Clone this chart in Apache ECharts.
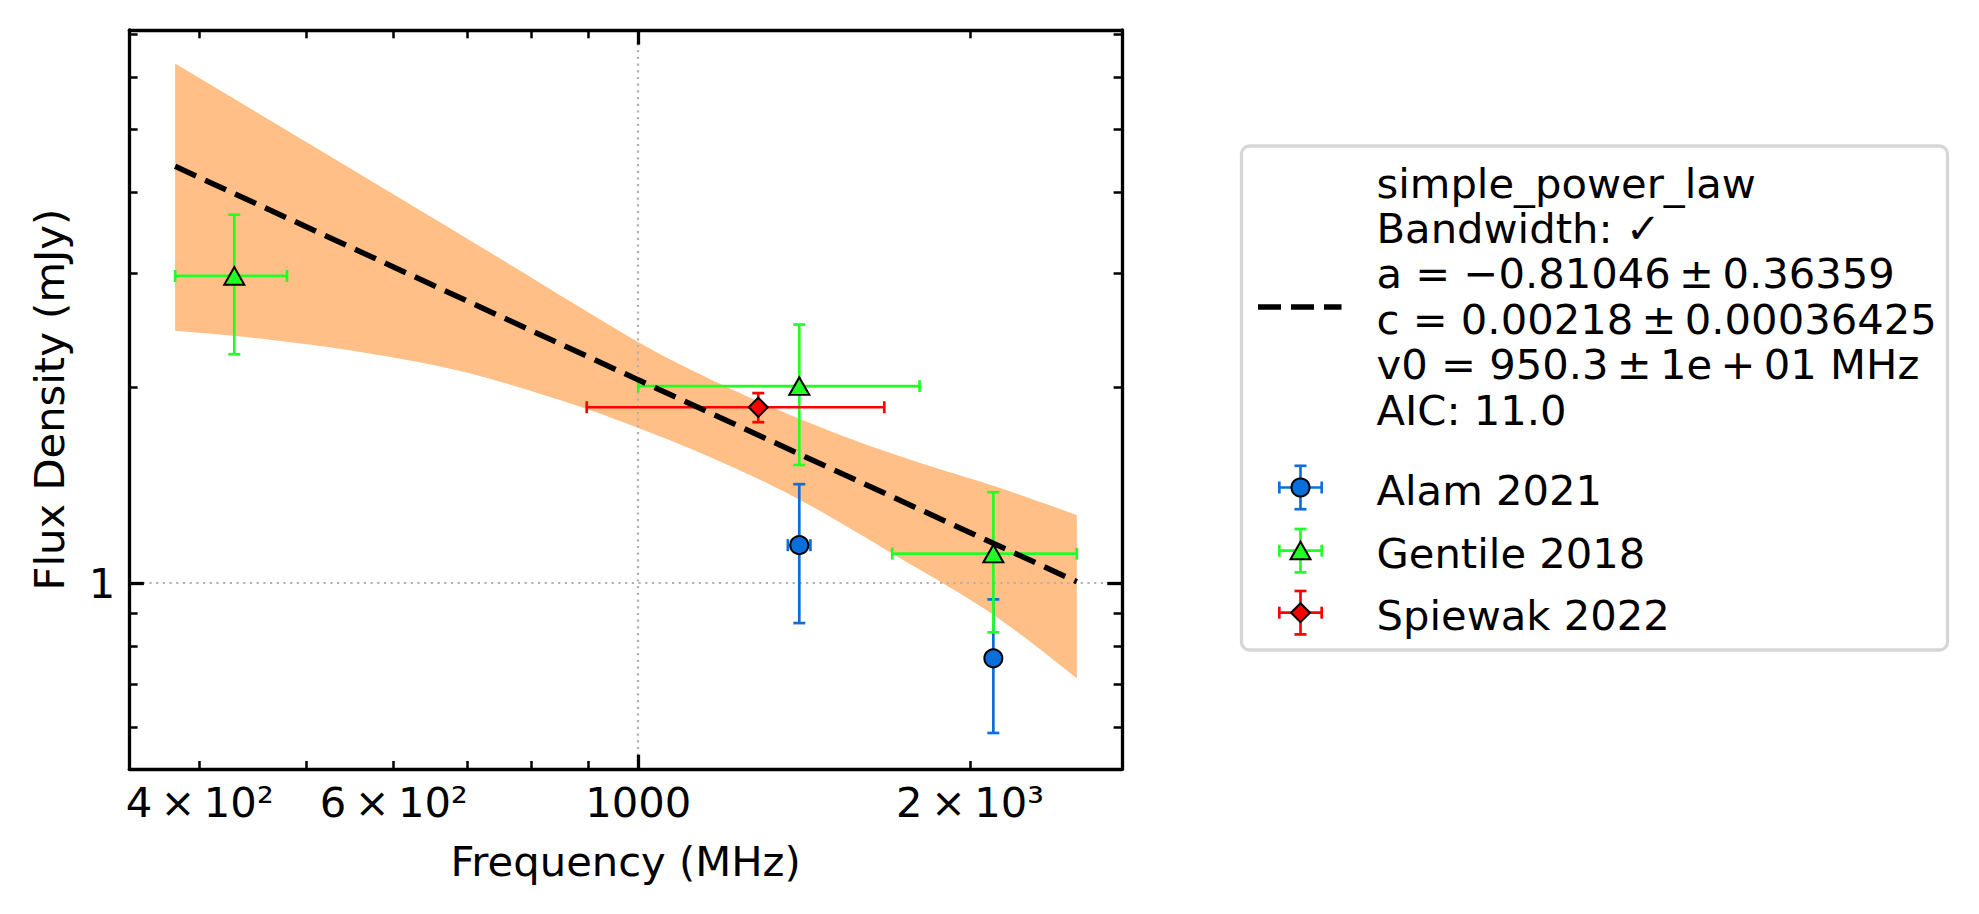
<!DOCTYPE html>
<html><head><meta charset="utf-8">
<script src="https://cdn.jsdelivr.net/npm/echarts@6/dist/echarts.min.js"></script>
<style>html,body{margin:0;padding:0;background:#fff}#c{width:1979px;height:914px}</style>
</head><body><div id="c"></div>
<script>
// ---------------- data ----------------
const alamFreq = [1400, 2100];
const alamFlux = [1.144, 0.766];
const alamFreqErr = [33, 0];
const alamFluxErr = [0.276, 0.178];

const gentileFreq = [430, 1400, 2100];
const gentileFlux = [2.97, 2.01, 1.11];
const gentileFreqErr = [50, 400, 400];
const gentileFluxErr = [0.72, 0.49, 0.27];

const spiewakFreq = [1285];
const spiewakFlux = [1.865];
const spiewakFreqErr = [387];
const spiewakFluxErr = [0.096];

const fitFreq = [380, 1000, 2500];
const fitFlux = [4.38, 2.055, 1.005];

const bandUpperFreq = [380, 675, 923, 1046, 1219, 1402, 1613, 1851, 2129, 2500];
const bandUpperFlux = [6.307, 3.516, 2.547, 2.253, 1.983, 1.789, 1.632, 1.509, 1.401, 1.273];
const bandLowerFreq = [380, 454, 559, 689, 849, 1000, 1178, 1402, 1704, 2100, 2500];
const bandLowerFlux = [2.446, 2.379, 2.269, 2.121, 1.913, 1.733, 1.547, 1.343, 1.108, 0.894, 0.714];

const xTickValues = [400, 600, 1000, 2000];
const xTickLabels = ['4\u2009×\u200910²', '6\u2009×\u200910²', '1000', '2\u2009×\u200910³'];
const xMajorTicks = [1000];
const xMinorTicks = [400, 500, 600, 700, 800, 900, 2000];
const yTickValues = [1];
const yTickLabels = ['1'];
const yMajorTicks = [1];
const yMinorTicks = [0.6, 0.7, 0.8, 0.9, 2, 3, 4, 5, 6, 7];
const xRange = [345.3, 2747];
const yRange = [0.517, 7.10];

const legendLines = ['simple_power_law', 'Bandwidth: ✓', 'a = −0.81046\u2009±\u20090.36359',
  'c = 0.00218\u2009±\u20090.00036425', 'v0 = 950.3\u2009±\u20091e\u2009+\u200901 MHz', 'AIC: 11.0'];
const seriesNames = ['Alam 2021', 'Gentile 2018', 'Spiewak 2022'];

// ---------------- styling ----------------
const FONT = '"DejaVu Sans", sans-serif';
const FS = 41.7;
const BLUE = '#0a6fdb', GREEN = '#22ff22', RED = '#ff0000', BAND = '#ffbf86';
const ERR_W = 2.7, CAP = 6;

function rows(f, s, fe, se) { return f.map((v, i) => [v, s[i], fe[i], se[i]]); }
function pts(f, s) { return f.map((v, i) => [v, s[i]]); }

function errRender(color) {
  return function (params, api) {
    const f = api.value(0), s = api.value(1), fe = api.value(2), se = api.value(3);
    const st = { stroke: color, lineWidth: ERR_W, fill: null };
    const ch = [];
    if (fe > 0) {
      const l = api.coord([f - fe, s]), r = api.coord([f + fe, s]);
      ch.push({ type: 'line', shape: { x1: l[0], y1: l[1], x2: r[0], y2: r[1] }, style: st });
      ch.push({ type: 'line', shape: { x1: l[0], y1: l[1] - CAP, x2: l[0], y2: l[1] + CAP }, style: st });
      ch.push({ type: 'line', shape: { x1: r[0], y1: r[1] - CAP, x2: r[0], y2: r[1] + CAP }, style: st });
    }
    if (se > 0) {
      const t = api.coord([f, s + se]), b = api.coord([f, s - se]);
      ch.push({ type: 'line', shape: { x1: t[0], y1: t[1], x2: b[0], y2: b[1] }, style: st });
      ch.push({ type: 'line', shape: { x1: t[0] - CAP, y1: t[1], x2: t[0] + CAP, y2: t[1] }, style: st });
      ch.push({ type: 'line', shape: { x1: b[0] - CAP, y1: b[1], x2: b[0] + CAP, y2: b[1] }, style: st });
    }
    return { type: 'group', children: ch };
  };
}

// smooth (Catmull-Rom) outline through the screen positions of the read edge points
function smoothOutline(p) {
  const out = [p[0]];
  const n = p.length;
  for (let i = 0; i < n - 1; i++) {
    const p0 = p[Math.max(i - 1, 0)], p1 = p[i], p2 = p[i + 1], p3 = p[Math.min(i + 2, n - 1)];
    const c1 = [p1[0] + (p2[0] - p0[0]) / 6, p1[1] + (p2[1] - p0[1]) / 6];
    const c2 = [p2[0] - (p3[0] - p1[0]) / 6, p2[1] - (p3[1] - p1[1]) / 6];
    for (let k = 1; k <= 12; k++) {
      const t = k / 12, u = 1 - t;
      out.push([
        u * u * u * p1[0] + 3 * u * u * t * c1[0] + 3 * u * t * t * c2[0] + t * t * t * p2[0],
        u * u * u * p1[1] + 3 * u * u * t * c1[1] + 3 * u * t * t * c2[1] + t * t * t * p2[1]
      ]);
    }
  }
  return out;
}

function bandRender(params, api) {
  if (params.dataIndex !== 0) return null;
  const up = smoothOutline(bandUpperFreq.map((f, i) => api.coord([f, bandUpperFlux[i]])));
  const lo = smoothOutline(bandLowerFreq.map((f, i) => api.coord([f, bandLowerFlux[i]]))).reverse();
  return { type: 'polygon', shape: { points: up.concat(lo) }, style: { fill: BAND, stroke: null } };
}

function labelFmt(values, labels) {
  return function (v) {
    for (let i = 0; i < values.length; i++) if (Math.abs(v - values[i]) / values[i] < 1e-6) return labels[i];
    return '';
  };
}

const txt = { fontSize: FS, fontFamily: FONT, color: '#000' };

function xAx(pos, ticks, len, w, extra) {
  return Object.assign({
    type: 'log', logBase: 10, min: xRange[0], max: xRange[1], position: pos, z: 1.5,
    axisLine: { show: true, onZero: false, lineStyle: { color: '#000', width: 3.3 } },
    axisTick: { show: true, inside: true, length: len, customValues: ticks, lineStyle: { color: '#000', width: w } },
    axisLabel: { show: false }, splitLine: { show: false }, minorTick: { show: false }, minorSplitLine: { show: false }
  }, extra || {});
}
function yAx(pos, ticks, len, w, extra) {
  return Object.assign({
    type: 'log', logBase: 10, min: yRange[0], max: yRange[1], position: pos, z: 1.5,
    axisLine: { show: true, onZero: false, lineStyle: { color: '#000', width: 3.3 } },
    axisTick: { show: true, inside: true, length: len, customValues: ticks, lineStyle: { color: '#000', width: w } },
    axisLabel: { show: false }, splitLine: { show: false }, minorTick: { show: false }, minorSplitLine: { show: false }
  }, extra || {});
}
const gridLine = { show: true, lineStyle: { color: '#b0b0b0', width: 2.2, type: [2.2, 4.5] } };

// ---------------- legend (graphic) ----------------
const LX = 1241.5, LY = 146, LR = 1947.5, LB = 650;
const HX = 1300.5, TX = 1376.5;
const lineY0 = 180.5, lineDY = 45.4, TXT_DY = 2.5;
const entryY = [487.5, 550.7, 612.7];
const gfx = [];
gfx.push({ type: 'rect', shape: { x: LX, y: LY, width: LR - LX, height: LB - LY, r: 8 },
  style: { fill: '#fff', stroke: '#d6d6d6', lineWidth: 3.3 } });
gfx.push({ type: 'line', shape: { x1: 1258, y1: 307, x2: 1341.5, y2: 307 },
  style: { stroke: '#000', lineWidth: 5.5, lineDash: [23, 10] } });
legendLines.forEach((t, i) => gfx.push({ type: 'text', x: TX, y: lineY0 + i * lineDY + TXT_DY,
  style: { text: t, font: FS + 'px ' + FONT, fill: '#000', align: 'left', verticalAlign: 'middle' } }));
const hcol = [BLUE, GREEN, RED];
entryY.forEach((y, i) => {
  const st = { stroke: hcol[i], lineWidth: ERR_W };
  gfx.push({ type: 'line', shape: { x1: HX - 21.2, y1: y, x2: HX + 21.2, y2: y }, style: st });
  gfx.push({ type: 'line', shape: { x1: HX - 21.2, y1: y - CAP, x2: HX - 21.2, y2: y + CAP }, style: st });
  gfx.push({ type: 'line', shape: { x1: HX + 21.2, y1: y - CAP, x2: HX + 21.2, y2: y + CAP }, style: st });
  gfx.push({ type: 'line', shape: { x1: HX, y1: y - 21.7, x2: HX, y2: y + 21.7 }, style: st });
  gfx.push({ type: 'line', shape: { x1: HX - CAP, y1: y - 21.7, x2: HX + CAP, y2: y - 21.7 }, style: st });
  gfx.push({ type: 'line', shape: { x1: HX - CAP, y1: y + 21.7, x2: HX + CAP, y2: y + 21.7 }, style: st });
  const ms = { fill: hcol[i], stroke: '#000', lineWidth: 2 };
  if (i === 0) gfx.push({ type: 'circle', shape: { cx: HX, cy: y, r: 9 }, style: ms });
  if (i === 1) gfx.push({ type: 'polygon', shape: { points: [[HX, y - 9], [HX - 10, y + 8.5], [HX + 10, y + 8.5]] }, style: ms });
  if (i === 2) gfx.push({ type: 'polygon', shape: { points: [[HX, y - 9.5], [HX + 9.5, y], [HX, y + 9.5], [HX - 9.5, y]] }, style: ms });
  gfx.push({ type: 'text', x: TX, y: y + TXT_DY,
    style: { text: seriesNames[i], font: FS + 'px ' + FONT, fill: '#000', align: 'left', verticalAlign: 'middle' } });
});

// ---------------- chart ----------------
const chart = echarts.init(document.getElementById('c'), null, { renderer: 'svg', width: 1979, height: 914 });
const markerStyle = c => ({ color: c, borderColor: '#000', borderWidth: 2, opacity: 1 });
chart.setOption({
  animation: false,
  backgroundColor: '#fff',
  textStyle: { fontFamily: FONT },
  grid: { left: 129.3, top: 30, width: 992.6, height: 739.3, containLabel: false, outerBoundsMode: 'none' },
  xAxis: [
    xAx('bottom', xMajorTicks, 14.6, 3.3, {
      axisLabel: Object.assign({ show: true, customValues: xTickValues, margin: 12.5,
        formatter: labelFmt(xTickValues, xTickLabels) }, txt),
      splitLine: gridLine,
      name: 'Frequency (MHz)', nameLocation: 'middle', nameGap: 71, nameTextStyle: txt }),
    xAx('bottom', xMinorTicks, 8.3, 2.5, { axisLine: { show: false, onZero: false } }),
    xAx('top', xMajorTicks, 14.6, 3.3),
    xAx('top', xMinorTicks, 8.3, 2.5, { axisLine: { show: false, onZero: false } })
  ],
  yAxis: [
    yAx('left', yMajorTicks, 14.6, 3.3, {
      axisLabel: Object.assign({ show: true, customValues: yTickValues, margin: 14,
        formatter: labelFmt(yTickValues, yTickLabels) }, txt),
      splitLine: gridLine,
      name: 'Flux Density (mJy)', nameLocation: 'middle', nameRotate: 90, nameGap: 59, nameTextStyle: txt }),
    yAx('left', yMinorTicks, 8.3, 2.5, { axisLine: { show: false, onZero: false } }),
    yAx('right', yMajorTicks, 14.6, 3.3),
    yAx('right', yMinorTicks, 8.3, 2.5, { axisLine: { show: false, onZero: false } })
  ],
  graphic: { elements: gfx },
  series: [
    { type: 'custom', name: 'band', z: 1, silent: true, clip: false,
      data: pts(bandUpperFreq, bandUpperFlux), encode: { x: 0, y: 1 }, renderItem: bandRender },
    { type: 'custom', name: 'Alam 2021 err', z: 3, silent: true,
      data: rows(alamFreq, alamFlux, alamFreqErr, alamFluxErr), encode: { x: 0, y: 1 }, renderItem: errRender(BLUE) },
    { type: 'scatter', name: 'Alam 2021', z: 4, silent: true, symbol: 'circle', symbolSize: 18,
      itemStyle: markerStyle(BLUE), data: pts(alamFreq, alamFlux) },
    { type: 'custom', name: 'Gentile 2018 err', z: 5, silent: true,
      data: rows(gentileFreq, gentileFlux, gentileFreqErr, gentileFluxErr), encode: { x: 0, y: 1 }, renderItem: errRender(GREEN) },
    { type: 'scatter', name: 'Gentile 2018', z: 6, silent: true, symbol: 'triangle', symbolSize: [20, 17.5],
      itemStyle: markerStyle(GREEN), data: pts(gentileFreq, gentileFlux) },
    { type: 'custom', name: 'Spiewak 2022 err', z: 7, silent: true,
      data: rows(spiewakFreq, spiewakFlux, spiewakFreqErr, spiewakFluxErr), encode: { x: 0, y: 1 }, renderItem: errRender(RED) },
    { type: 'scatter', name: 'Spiewak 2022', z: 8, silent: true, symbol: 'diamond', symbolSize: [19, 19],
      itemStyle: markerStyle(RED), data: pts(spiewakFreq, spiewakFlux) },
    { type: 'line', name: 'simple_power_law', z: 9, silent: true, showSymbol: false, symbol: 'none',
      lineStyle: { color: '#000', width: 5.5, type: [23, 10] }, data: pts(fitFreq, fitFlux) }
  ]
});
</script></body></html>
